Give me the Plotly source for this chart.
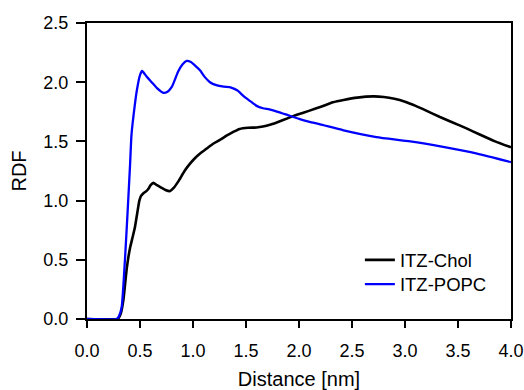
import plotly.graph_objects as go

chol_x = [0.0, 0.29, 0.30, 0.32, 0.343, 0.36, 0.374, 0.39, 0.406, 0.43, 0.453, 0.475, 0.494, 0.51, 0.53, 0.56,
          0.58, 0.60, 0.626, 0.66, 0.70, 0.74, 0.78, 0.82, 0.86, 0.92, 0.97, 1.02, 1.07, 1.13, 1.19, 1.25,
          1.32, 1.38, 1.44, 1.52, 1.60, 1.66, 1.726, 1.79, 1.85, 1.92, 1.98, 2.10, 2.20, 2.32, 2.42, 2.55,
          2.70, 2.80, 2.90, 3.00, 3.10, 3.20, 3.33, 3.45, 3.58, 3.70, 3.85, 4.00]
chol_y = [0.0, 0.0, 0.01, 0.05, 0.16, 0.30, 0.42, 0.52, 0.60, 0.69, 0.78, 0.90, 1.00, 1.04, 1.06, 1.08,
          1.10, 1.13, 1.15, 1.13, 1.11, 1.09, 1.08, 1.11, 1.16, 1.25, 1.31, 1.36, 1.40, 1.44, 1.48, 1.51,
          1.55, 1.58, 1.605, 1.615, 1.617, 1.625, 1.64, 1.66, 1.68, 1.705, 1.725, 1.76, 1.79, 1.83, 1.85, 1.87,
          1.88, 1.875, 1.86, 1.835, 1.80, 1.76, 1.706, 1.66, 1.61, 1.56, 1.50, 1.45]

popc_x = [0.0, 0.28, 0.30, 0.327, 0.358, 0.384, 0.406, 0.42, 0.45, 0.47, 0.50, 0.52, 0.56, 0.61, 0.66, 0.72,
          0.76, 0.80, 0.86, 0.90, 0.94, 0.98, 1.02, 1.066, 1.11, 1.16, 1.22, 1.29, 1.36, 1.42, 1.48, 1.54,
          1.60, 1.66, 1.72, 1.80, 1.90, 2.00, 2.10, 2.20, 2.42, 2.73, 3.05, 3.36, 3.68, 4.00]
popc_y = [0.0, 0.0, 0.02, 0.10, 0.50, 0.92, 1.30, 1.56, 1.80, 1.93, 2.06, 2.095, 2.05, 2.00, 1.95, 1.91,
          1.92, 1.96, 2.09, 2.15, 2.18, 2.17, 2.14, 2.10, 2.045, 2.00, 1.975, 1.962, 1.955, 1.93, 1.88, 1.84,
          1.80, 1.78, 1.77, 1.75, 1.72, 1.69, 1.665, 1.644, 1.594, 1.537, 1.50, 1.453, 1.397, 1.325]

x_ticks = [0.0, 0.5, 1.0, 1.5, 2.0, 2.5, 3.0, 3.5, 4.0]
y_ticks = [0.0, 0.5, 1.0, 1.5, 2.0, 2.5]

FONT = "Liberation Sans, Arial, sans-serif"

fig = go.Figure()
fig.add_trace(go.Scatter(x=chol_x, y=chol_y, mode="lines", name="ITZ-Chol", legend="legend",
                         line=dict(color="black", width=2.6, shape="spline", smoothing=0.5)))
fig.add_trace(go.Scatter(x=popc_x, y=popc_y, mode="lines", name="ITZ-POPC", legend="legend2",
                         line=dict(color="#0000ff", width=2.3, shape="spline", smoothing=0.5)))

axis_common = dict(showline=True, linecolor="black", linewidth=2, mirror=True,
                   ticks="outside", tickcolor="black", tickwidth=2,
                   showgrid=False, zeroline=False, automargin=False,
                   tickfont=dict(family=FONT, size=18, color="black"))

legend_common = dict(xanchor="left", yanchor="middle", bgcolor="rgba(0,0,0,0)",
                     font=dict(family=FONT, size=18.5, color="black"))

fig.update_layout(
    width=524, height=390,
    margin=dict(l=87, r=13, t=23, b=71),
    paper_bgcolor="white", plot_bgcolor="white",
    font=dict(family=FONT, size=18, color="black"),
    xaxis=dict(range=[0, 4.0], tickvals=x_ticks, ticktext=[f"{v:.1f}" for v in x_ticks], ticklen=7,
               ticklabelstandoff=7,
               title=dict(text="Distance [nm]", font=dict(family=FONT, size=20), standoff=18),
               **axis_common),
    yaxis=dict(range=[0, 2.5], tickvals=y_ticks, ticktext=[f"{v:.1f}" for v in y_ticks], ticklen=9,
               ticklabelstandoff=4,
               title=dict(text="RDF", font=dict(family=FONT, size=20), standoff=11),
               **axis_common),
    legend=dict(x=0.6436, y=0.198, **legend_common),
    legend2=dict(x=0.6436, y=0.116, **legend_common),
    showlegend=True,
)

fig.write_html("out.html")
